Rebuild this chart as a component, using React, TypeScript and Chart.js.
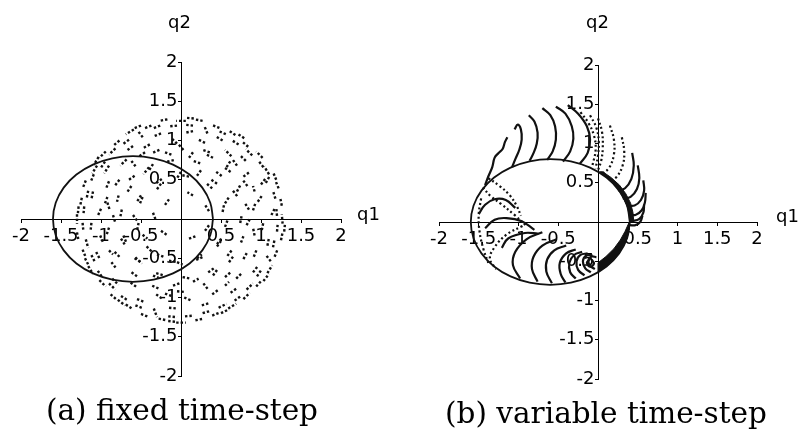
import React, { useEffect, useRef } from 'react';
import { Chart, registerables } from 'chart.js';

Chart.register(...registerables);

type Pt = [number, number];
type Stroke = [number, number, number, number];

// ---------- axis ticks ----------
const axisTicks = [-2, -1.5, -1, -0.5, 0, 0.5, 1, 1.5, 2];
const axisTickLabels = ['-2', '-1.5', '-1', '-0.5', '', '0.5', '1', '1.5', '2'];

// ---------- exact Kepler orbit (q1, q2) ----------
const orbitQ1 = [0.4, 0.366, 0.266, 0.107, -0.1, -0.341, -0.6, -0.859, -1.1, -1.307, -1.466, -1.566, -1.6,
  -1.566, -1.466, -1.307, -1.1, -0.859, -0.6, -0.341, -0.1, 0.107, 0.266, 0.366, 0.4];
const orbitQ2 = [0, 0.207, 0.4, 0.566, 0.693, 0.773, 0.8, 0.773, 0.693, 0.566, 0.4, 0.207, 0,
  -0.207, -0.4, -0.566, -0.693, -0.773, -0.8, -0.773, -0.693, -0.566, -0.4, -0.207, 0];

// ---------- (a) fixed time-step: short runs of successive steps [q1a, q2a, q1b, q2b] ----------
const fixedOuterRim: Stroke[] = [
  [1.27, -0.06, 1.26, 0.06], [1.26, 0.17, 1.24, 0.27], [1.22, 0.39, 1.18, 0.49], [1.10, 0.57, 1.04, 0.67],
  [1.02, 0.78, 0.94, 0.86], [0.84, 0.92, 0.76, 0.99], [0.68, 1.07, 0.59, 1.13], [0.48, 1.16, 0.38, 1.20],
  [0.27, 1.25, 0.17, 1.27], [0.06, 1.25, -0.06, 1.25], [-0.17, 1.27, -0.27, 1.25], [-0.37, 1.19, -0.47, 1.15],
  [-0.59, 1.14, -0.69, 1.08], [-0.77, 1.00, -0.85, 0.93], [-0.94, 0.86, -1.02, 0.78], [-1.05, 0.68, -1.11, 0.58],
  [-1.19, 0.49, -1.23, 0.39], [-1.24, 0.27, -1.26, 0.17], [-1.30, 0.06, -1.30, -0.06], [-1.30, -0.17, -1.28, -0.28],
  [-1.23, -0.39, -1.19, -0.49], [-1.16, -0.60, -1.10, -0.70], [-1.02, -0.78, -0.94, -0.86], [-0.88, -0.96, -0.80, -1.03],
  [-0.69, -1.09, -0.60, -1.15], [-0.50, -1.21, -0.40, -1.25], [-0.28, -1.27, -0.18, -1.29], [-0.06, -1.32, 0.06, -1.32],
  [0.18, -1.29, 0.28, -1.27], [0.39, -1.23, 0.49, -1.19], [0.59, -1.14, 0.69, -1.08], [0.78, -1.02, 0.86, -0.94],
  [0.94, -0.86, 1.01, -0.78], [1.08, -0.69, 1.14, -0.59], [1.17, -0.48, 1.21, -0.38], [1.25, -0.27, 1.27, -0.17],
  [1.19, 0.50, 1.15, 0.60], [0.79, 1.03, 0.70, 1.09], [0.16, 1.28, 0.06, 1.29], [-0.50, 1.19, -0.60, 1.15],
  [-1.03, 0.79, -1.09, 0.69], [-1.28, 0.16, -1.29, 0.06], [-1.20, -0.50, -1.15, -0.60], [-0.79, -1.03, -0.70, -1.10],
  [-0.16, -1.30, -0.06, -1.31], [0.50, -1.20, 0.60, -1.15], [1.03, -0.79, 1.10, -0.70], [1.29, -0.16, 1.30, -0.06],
];
const fixedRimInner: Stroke[] = [
  [1.20, 0.04, 1.19, 0.15], [1.18, 0.26, 1.15, 0.36], [1.06, 0.46, 1.11, 0.55], [1.03, 0.66, 0.97, 0.74],
  [0.89, 0.81, 0.81, 0.89], [0.72, 0.95, 0.64, 1.00], [0.56, 1.08, 0.47, 1.12], [0.33, 1.09, 0.29, 1.19],
  [0.15, 1.19, 0.05, 1.20], [-0.05, 1.19, -0.15, 1.18], [-0.26, 1.19, -0.36, 1.15], [-0.53, 1.11, -0.47, 1.03],
  [-0.65, 1.01, -0.73, 0.95], [-0.82, 0.90, -0.90, 0.82], [-0.95, 0.73, -1.01, 0.64], [-1.09, 0.57, -1.13, 0.47],
  [-1.16, 0.36, -1.18, 0.26], [-1.21, 0.16, -1.22, 0.05], [-1.23, -0.05, -1.22, -0.16], [-1.19, -0.26, -1.16, -0.37],
  [-1.12, -0.46, -1.07, -0.56], [-1.04, -0.66, -0.98, -0.75], [-0.90, -0.82, -0.82, -0.90], [-0.75, -0.98, -0.66, -1.04],
  [-0.57, -1.10, -0.47, -1.14], [-0.34, -1.14, -0.30, -1.25], [-0.16, -1.24, -0.05, -1.25], [0.05, -1.24, 0.16, -1.23],
  [0.27, -1.20, 0.37, -1.17], [0.47, -1.13, 0.57, -1.08], [0.67, -1.04, 0.75, -0.98], [0.82, -0.90, 0.90, -0.82],
  [0.95, -0.73, 1.01, -0.64], [1.07, -0.47, 1.13, -0.55], [1.15, -0.36, 1.17, -0.26], [1.20, -0.16, 1.21, -0.05],
];
const fixedMidRing: Stroke[] = [
  [1.13, 0.05, 1.18, 0.15], [1.00, 0.44, 1.06, 0.52], [0.81, 0.74, 0.74, 0.81], [0.52, 1.00, 0.44, 1.05],
  [0.15, 1.12, 0.06, 1.10], [-0.25, 1.09, -0.35, 1.05], [-0.60, 0.93, -0.68, 0.87], [-0.90, 0.68, -0.96, 0.58],
  [-1.10, 0.35, -1.12, 0.25], [-1.12, -0.05, -1.13, -0.15], [-1.06, -0.42, -1.01, -0.52], [-0.86, -0.76, -0.78, -0.84],
  [-0.55, -1.02, -0.45, -1.06], [-0.15, -1.13, -0.05, -1.14], [0.26, -1.10, 0.36, -1.07], [0.62, -0.94, 0.70, -0.88],
  [0.90, -0.68, 0.96, -0.60], [1.08, -0.34, 1.10, -0.24],
  [0.96, 0.22, 1.02, 0.31], [0.78, 0.54, 0.86, 0.60], [0.63, 0.80, 0.55, 0.88], [0.30, 0.97, 0.22, 1.01],
  [-0.05, 0.96, -0.12, 1.03], [-0.39, 0.95, -0.48, 0.90], [-0.68, 0.76, -0.76, 0.68], [-0.90, 0.48, -0.94, 0.38],
  [-1.00, 0.13, -1.04, 0.04], [-1.01, -0.21, -0.97, -0.31], [-0.87, -0.55, -0.81, -0.63], [-0.63, -0.81, -0.55, -0.87],
  [-0.31, -0.96, -0.23, -1.02], [0.04, -1.00, 0.13, -1.04], [0.39, -0.96, 0.47, -0.90], [0.69, -0.76, 0.76, -0.69],
  [0.91, -0.48, 0.95, -0.38], [1.01, -0.14, 1.03, -0.04],
  [0.90, 0.11, 0.93, 0.20], [0.83, 0.42, 0.77, 0.50], [0.57, 0.66, 0.62, 0.74], [0.36, 0.85, 0.27, 0.88],
  [0.03, 0.88, -0.03, 0.95], [-0.27, 0.88, -0.36, 0.84], [-0.62, 0.74, -0.56, 0.66], [-0.77, 0.50, -0.83, 0.42],
  [-0.92, 0.21, -0.89, 0.11], [-0.90, -0.11, -0.93, -0.20], [-0.83, -0.42, -0.76, -0.49], [-0.55, -0.73, -0.63, -0.67],
  [-0.36, -0.85, -0.27, -0.89], [-0.05, -0.92, 0.05, -0.93], [0.28, -0.82, 0.34, -0.90], [0.55, -0.74, 0.63, -0.67],
  [0.78, -0.51, 0.83, -0.42], [0.92, -0.21, 0.90, -0.11],
];
const fixedCore: Stroke[] = [
  [0.85, 0.12, 0.80, 0.20], [0.70, 0.35, 0.75, 0.45], [0.62, 0.60, 0.55, 0.65], [0.40, 0.78, 0.32, 0.82],
  [0.15, 0.85, 0.10, 0.78], [-0.12, 0.82, -0.20, 0.85], [-0.35, 0.70, -0.40, 0.62], [-0.58, 0.55, -0.65, 0.50],
  [-0.78, 0.30, -0.80, 0.22], [-0.85, 0.05, -0.82, -0.05], [-0.75, -0.25, -0.70, -0.33], [-0.58, -0.50, -0.50, -0.55],
  [-0.35, -0.72, -0.28, -0.75], [-0.10, -0.85, -0.02, -0.82], [0.15, -0.80, 0.22, -0.76], [0.40, -0.72, 0.45, -0.65],
  [0.60, -0.55, 0.65, -0.48], [0.75, -0.30, 0.78, -0.22], [0.82, -0.08, 0.86, 0.00], [0.55, 0.20, 0.60, 0.28],
  [0.45, 0.45, 0.38, 0.50], [0.20, 0.55, 0.25, 0.62], [0.00, 0.60, -0.05, 0.52], [-0.25, 0.45, -0.30, 0.38],
  [-0.50, 0.30, -0.55, 0.22], [-0.60, 0.05, -0.55, -0.02], [-0.48, -0.20, -0.42, -0.25], [-0.30, -0.45, -0.22, -0.48],
  [-0.05, -0.55, 0.02, -0.58], [0.20, -0.50, 0.26, -0.45], [0.45, -0.35, 0.50, -0.28], [0.55, -0.10, 0.58, -0.02],
  [0.35, 0.10, 0.30, 0.18], [0.15, 0.30, 0.08, 0.34], [-0.15, 0.25, -0.20, 0.18], [-0.35, 0.08, -0.32, 0.00],
  [-0.25, -0.15, -0.18, -0.20], [0.10, -0.25, 0.18, -0.22], [0.30, -0.15, 0.35, -0.08], [0.65, 0.75, 0.70, 0.68],
  [-0.45, 0.85, -0.52, 0.80], [-0.95, 0.20, -0.92, 0.28], [-0.90, -0.40, -0.85, -0.45], [-0.20, -0.95, -0.12, -0.98],
  [0.55, -0.85, 0.60, -0.80], [0.92, 0.35, 0.90, 0.42],
  [0.74, -0.05, 0.76, 0.05], [0.65, 0.36, 0.71, 0.28], [0.44, 0.60, 0.52, 0.54], [0.24, 0.71, 0.15, 0.74],
  [-0.09, 0.75, -0.18, 0.73], [-0.40, 0.66, -0.47, 0.57], [-0.62, 0.42, -0.68, 0.33], [-0.74, 0.12, -0.76, 0.02],
  [-0.72, -0.21, -0.68, -0.31], [-0.57, -0.49, -0.49, -0.57], [-0.31, -0.69, -0.21, -0.72], [0.02, -0.74, 0.12, -0.76],
  [0.34, -0.68, 0.42, -0.62], [0.58, -0.47, 0.64, -0.39],
  [0.52, 0.09, 0.54, 0.19], [0.39, 0.39, 0.31, 0.46], [0.10, 0.54, 0.00, 0.56], [-0.24, 0.51, -0.32, 0.45],
  [-0.48, 0.28, -0.52, 0.18], [-0.53, -0.05, -0.55, -0.15], [-0.43, -0.35, -0.35, -0.43], [-0.15, -0.53, -0.05, -0.55],
  [0.19, -0.52, 0.28, -0.48], [0.45, -0.32, 0.51, -0.24],
];

// ---------- (b) variable time-step: runs of steps ----------
const variableDenseRuns: Pt[][] = [
  [[-1.42, 0.47], [-1.38, 0.58], [-1.33, 0.70], [-1.30, 0.82], [-1.25, 0.88], [-1.20, 0.93], [-1.17, 1.02], [-1.14, 1.08]],
  [[-1.05, 1.18], [-1.01, 1.24], [-0.97, 1.18], [-0.96, 1.05], [-0.99, 0.92], [-1.04, 0.80], [-1.08, 0.70]],
  [[-0.87, 1.36], [-0.80, 1.28], [-0.76, 1.14], [-0.77, 1.00], [-0.81, 0.88], [-0.86, 0.78]],
  [[-0.70, 1.45], [-0.60, 1.36], [-0.54, 1.22], [-0.53, 1.05], [-0.57, 0.90], [-0.64, 0.79]],
  [[-0.53, 1.47], [-0.41, 1.38], [-0.33, 1.22], [-0.31, 1.06], [-0.35, 0.90], [-0.44, 0.77]],
  [[-0.38, 1.49], [-0.25, 1.38], [-0.14, 1.22], [-0.10, 1.05], [-0.13, 0.88], [-0.23, 0.74]],
  [[0.43, 0.88], [0.45, 0.72], [0.42, 0.55], [0.34, 0.43], [0.25, 0.40]],
  [[0.50, 0.72], [0.52, 0.56], [0.49, 0.42], [0.41, 0.32], [0.31, 0.30]],
  [[0.57, 0.53], [0.58, 0.40], [0.54, 0.28], [0.46, 0.21], [0.36, 0.21]],
  [[0.60, 0.37], [0.59, 0.25], [0.55, 0.15], [0.47, 0.09], [0.39, 0.10]],
  [[0.58, 0.22], [0.57, 0.12], [0.52, 0.04], [0.42, 0.01]],
  [[0.56, 0.08], [0.53, 0.00], [0.47, -0.04], [0.40, -0.04]],
  [[-0.70, -0.13], [-0.90, -0.22], [-1.04, -0.38], [-1.07, -0.55], [-0.98, -0.72]],
  [[-0.52, -0.22], [-0.70, -0.30], [-0.81, -0.44], [-0.83, -0.60], [-0.76, -0.76]],
  [[-0.40, -0.30], [-0.55, -0.36], [-0.64, -0.48], [-0.65, -0.63], [-0.58, -0.78]],
  [[-0.28, -0.35], [-0.40, -0.40], [-0.48, -0.52], [-0.47, -0.66], [-0.41, -0.77]],
  [[-0.20, -0.38], [-0.30, -0.42], [-0.36, -0.52], [-0.35, -0.64], [-0.28, -0.72]],
  [[-0.13, -0.40], [-0.22, -0.42], [-0.27, -0.50], [-0.25, -0.61], [-0.17, -0.68]],
  [[-0.07, -0.42], [-0.15, -0.43], [-0.19, -0.50], [-0.16, -0.59], [-0.09, -0.64]],
  [[-0.02, -0.45], [-0.08, -0.44], [-0.12, -0.49], [-0.10, -0.56], [-0.04, -0.60]],
  [[-0.10, -0.47], [-0.14, -0.52], [-0.10, -0.57], [-0.05, -0.53], [-0.08, -0.48]],
  [[-1.42, -0.08], [-1.30, 0.03], [-1.15, 0.05], [-0.96, 0.01], [-0.80, -0.10]],
  [[-1.50, 0.10], [-1.42, 0.22], [-1.30, 0.29], [-1.16, 0.28], [-1.04, 0.18]],
  [[-1.21, -0.33], [-1.13, -0.21], [-0.92, -0.14], [-0.75, -0.15]],
];
const variableSparseRuns: Pt[][] = [
  [[-0.22, 1.40], [-0.12, 1.26], [-0.05, 1.10], [-0.03, 0.92], [-0.07, 0.72]],
  [[-0.10, 1.36], [-0.02, 1.20], [0.01, 1.02], [0.00, 0.85], [-0.03, 0.68]],
  [[0.00, 1.32], [0.05, 1.15], [0.06, 0.95], [0.04, 0.78], [0.00, 0.66]],
  [[0.15, 1.23], [0.20, 1.05], [0.20, 0.86], [0.14, 0.69], [0.05, 0.61]],
  [[0.30, 1.08], [0.33, 0.90], [0.31, 0.72], [0.23, 0.57], [0.14, 0.52]],
  [[-0.95, -0.05], [-1.15, -0.16], [-1.30, -0.32], [-1.36, -0.47], [-1.28, -0.60]],
  [[-1.47, 0.30], [-1.50, 0.10], [-1.49, -0.12], [-1.44, -0.35], [-1.38, -0.52]],
  [[-1.38, 0.56], [-1.24, 0.46], [-1.11, 0.34], [-1.02, 0.20], [-0.97, 0.08]],
  [[-1.45, 0.44], [-1.35, 0.33], [-1.22, 0.23], [-1.05, 0.09], [-0.90, -0.05]],
];
const variableUpperBand: Pt[] = [
  [0.02, 0.64], [0.107, 0.566], [0.2, 0.48], [0.266, 0.40], [0.33, 0.28], [0.366, 0.207], [0.39, 0.1], [0.4, 0.0],
  [0.45, 0.0], [0.44, 0.12], [0.41, 0.24], [0.35, 0.36], [0.27, 0.47], [0.16, 0.57], [0.06, 0.64], [0.02, 0.64],
];
const variableLowerBand: Pt[] = [
  [0.4, 0.0], [0.39, -0.1], [0.366, -0.207], [0.33, -0.28], [0.266, -0.40], [0.2, -0.48], [0.107, -0.566], [0.0, -0.64],
  [0.0, -0.52], [0.10, -0.44], [0.20, -0.34], [0.28, -0.23], [0.34, -0.12], [0.38, -0.03], [0.4, 0.0],
];

// ---------- helpers ----------
const INK = '#111';
const toXY = (pts: Pt[]) => pts.map(([x, y]) => ({ x, y }));
const orbitPoints: Pt[] = orbitQ1.map((x, i) => [x, orbitQ2[i]] as Pt);

const orbitDataset = () => ({
  data: toXY(orbitPoints), showLine: true, pointRadius: 0, borderColor: INK, borderWidth: 1.8, tension: 0.4, fill: false,
});
const strokeDataset = (s: Stroke) => ({
  data: toXY([[s[0], s[1]], [s[2], s[3]]]), showLine: true, pointRadius: 0, borderColor: INK, borderWidth: 2.4,
  borderDash: [2.4, 2], tension: 0, fill: false,
});
const runDataset = (pts: Pt[], dotted: boolean) => ({
  data: toXY(pts), showLine: true, pointRadius: 0, borderColor: INK, borderWidth: dotted ? 2.2 : 2.2,
  borderDash: dotted ? [2, 2.6] : [], tension: 0.4, fill: false,
});
const bandDataset = (pts: Pt[]) => ({
  data: toXY(pts), showLine: true, pointRadius: 0, borderColor: INK, backgroundColor: INK, borderWidth: 1,
  tension: 0, fill: 'shape',
});

const fixedDatasets = () => [
  orbitDataset(),
  ...[...fixedOuterRim, ...fixedRimInner, ...fixedMidRing, ...fixedCore].map(strokeDataset),
];
const variableDatasets = () => [
  orbitDataset(),
  bandDataset(variableUpperBand),
  bandDataset(variableLowerBand),
  ...variableDenseRuns.map((r) => runDataset(r, false)),
  ...variableSparseRuns.map((r) => runDataset(r, true)),
];

const axisScale = (axis: 'x' | 'y') => ({
  type: 'linear',
  min: -2,
  max: 2,
  position: axis === 'x' ? { y: 0 } : { x: 0 },
  afterBuildTicks: (scale: any) => {
    scale.ticks = axisTicks.map((v) => ({ value: v }));
  },
  ticks: {
    autoSkip: false,
    maxRotation: 0,
    color: '#000',
    padding: axis === 'x' ? 4 : 3,
    font: { family: 'DejaVu Sans', size: 18 },
    // y labels sit left of the vertical axis: a thin space keeps them off the line
    callback: (_v: any, i: number) => (axis === 'y' && axisTickLabels[i] ? axisTickLabels[i] + '\u2009' : axisTickLabels[i]),
  },
  grid: { drawOnChartArea: false, drawTicks: true, tickLength: 3, color: '#000', lineWidth: 1 },
  border: { display: true, color: '#000', width: 1 },
});

type PanelProps = { datasets: () => any[]; pad: { left: number; right: number; top: number; bottom: number } };

function OrbitPanel({ datasets, pad }: PanelProps) {
  const ref = useRef<HTMLCanvasElement>(null);
  useEffect(() => {
    if (!ref.current) return;
    const chart = new Chart(ref.current, {
      type: 'scatter',
      data: { datasets: datasets() },
      options: {
        responsive: false,
        animation: false,
        devicePixelRatio: 1,
        events: [],
        layout: { padding: pad },
        plugins: { legend: { display: false }, tooltip: { enabled: false } },
        scales: { x: axisScale('x') as any, y: axisScale('y') as any },
      },
    });
    return () => chart.destroy();
  }, []);
  return <canvas ref={ref} width={799} height={439} style={{ position: 'absolute', left: 0, top: 0 }} />;
}

const axisLabelStyle: React.CSSProperties = {
  position: 'absolute', fontFamily: 'DejaVu Sans', fontSize: 18, lineHeight: '18px', color: '#000', whiteSpace: 'nowrap',
};
const captionStyle: React.CSSProperties = {
  position: 'absolute', fontFamily: 'DejaVu Serif', fontSize: 29.5, lineHeight: '30px', color: '#000',
  whiteSpace: 'nowrap', width: 400, textAlign: 'center',
};

export default function App() {
  return (
    <div style={{ position: 'fixed', left: 0, top: 0, width: 799, height: 439, background: '#fff', overflow: 'hidden' }}>
      <OrbitPanel datasets={fixedDatasets} pad={{ left: 21, right: 458, top: 62, bottom: 63 }} />
      <OrbitPanel datasets={variableDatasets} pad={{ left: 439, right: 42, top: 65, bottom: 60 }} />
      <div style={{ ...axisLabelStyle, left: 168, top: 13 }}>q2</div>
      <div style={{ ...axisLabelStyle, left: 357, top: 205 }}>q1</div>
      <div style={{ ...axisLabelStyle, left: 586, top: 13 }}>q2</div>
      <div style={{ ...axisLabelStyle, left: 776, top: 207 }}>q1</div>
      <div style={{ ...captionStyle, left: -18, top: 395 }}>(a) fixed time-step</div>
      <div style={{ ...captionStyle, left: 406, top: 398 }}>(b) variable time-step</div>
    </div>
  );
}
